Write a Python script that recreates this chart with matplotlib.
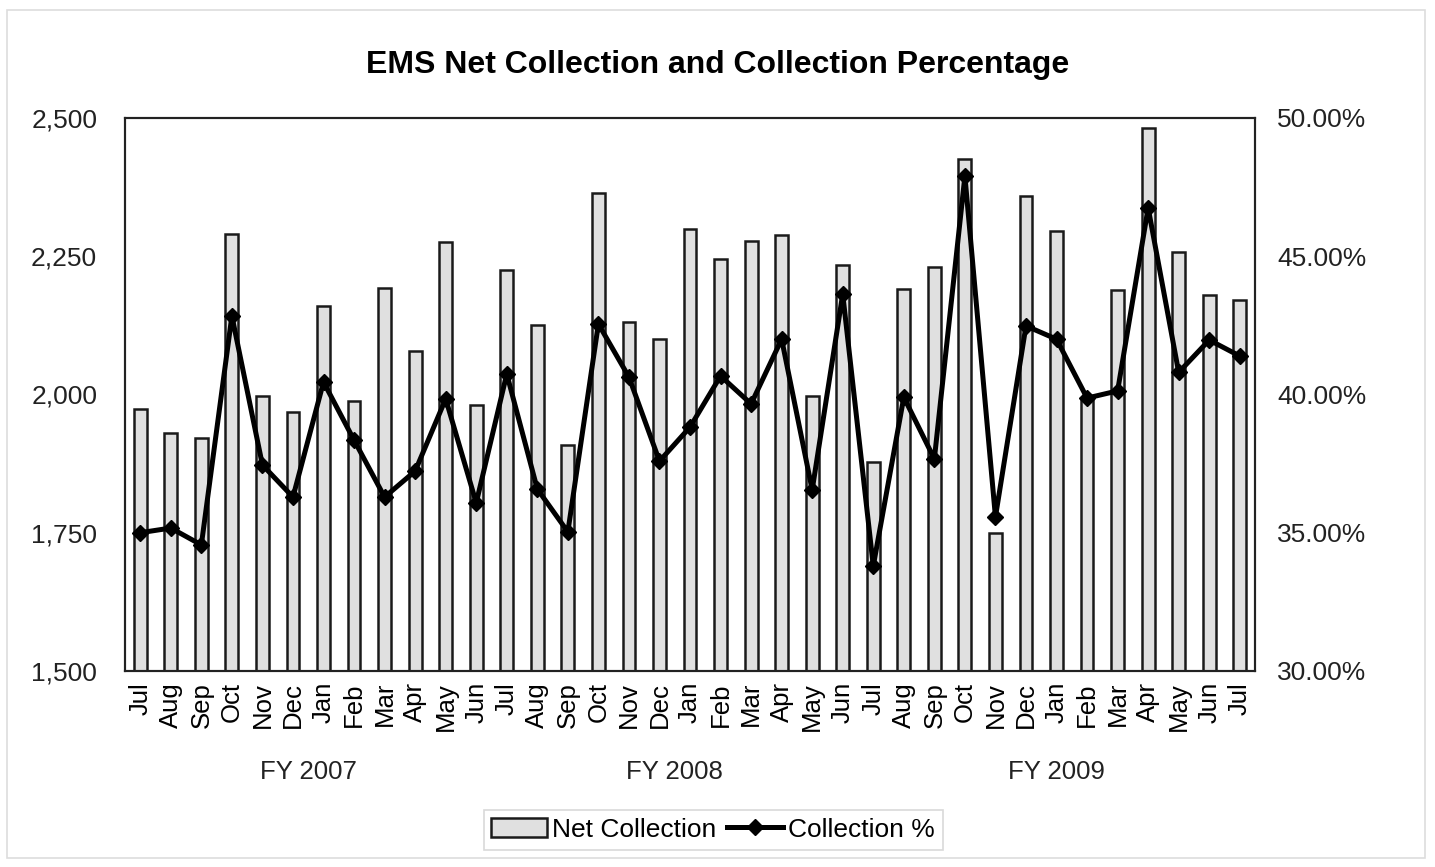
import numpy as np
import matplotlib
matplotlib.use("Agg")
import matplotlib.pyplot as plt
import matplotlib.ticker as ticker
from matplotlib.patches import Rectangle

plt.rcParams['font.family'] = ['Liberation Sans', 'DejaVu Sans']

months = ['Jul', 'Aug', 'Sep', 'Oct', 'Nov', 'Dec', 'Jan', 'Feb', 'Mar', 'Apr', 'May', 'Jun',
          'Jul', 'Aug', 'Sep', 'Oct', 'Nov', 'Dec', 'Jan', 'Feb', 'Mar', 'Apr', 'May', 'Jun',
          'Jul', 'Aug', 'Sep', 'Oct', 'Nov', 'Dec', 'Jan', 'Feb', 'Mar', 'Apr', 'May', 'Jun',
          'Jul']

net_collection = [1974, 1930, 1921, 2290, 1997, 1968, 2160, 1988, 2193, 2079, 2276, 1981,
                  2225, 2126, 1909, 2365, 2131, 2100, 2300, 2245, 2278, 2288, 1997, 2234,
                  1878, 2191, 2231, 2426, 1750, 2359, 2296, 1994, 2189, 2482, 2258, 2180,
                  2171]

collection_pct = [35.0, 35.17, 34.56, 42.84, 37.45, 36.29, 40.45, 38.35, 36.29, 37.23, 39.84, 36.08,
                  40.74, 36.58, 35.03, 42.55, 40.63, 37.59, 38.82, 40.67, 39.66, 42.0, 36.55, 43.63,
                  33.8, 39.9, 37.67, 47.9, 35.57, 42.48, 42.0, 39.87, 40.13, 46.75, 40.8, 41.97,
                  41.39]

fiscal_years = ['FY 2007', 'FY 2008', 'FY 2009']
fy_centers = [5.5, 17.5, 30.0]

x = np.arange(len(months))

fig = plt.figure(figsize=(14.35, 8.67), dpi=100)
ax = fig.add_axes([0.0871, 0.2261, 0.7875, 0.6378])
ax2 = ax.twinx()

# outer chart border
fig.patches.append(Rectangle((0.005, 0.01), 0.988, 0.978, transform=fig.transFigure,
                             fill=False, edgecolor='#dddddd', linewidth=1.2))

bars = ax.bar(x, net_collection, width=0.42, color='#e0e0e0', edgecolor='#1a1a1a',
              linewidth=1.8, label='Net Collection', zorder=2)
line, = ax2.plot(x, collection_pct, color='black', linewidth=3.6, marker='D',
                 markersize=8.5, label='Collection %', zorder=3)

ax.set_xlim(-0.5, len(months) - 0.5)
ax.set_ylim(1500, 2500)
ax2.set_ylim(30, 50)

ax.yaxis.set_major_locator(ticker.MultipleLocator(250))
ax.yaxis.set_major_formatter(ticker.FuncFormatter(lambda v, p: '{:,.0f}'.format(v)))
ax2.yaxis.set_major_locator(ticker.MultipleLocator(5))
ax2.yaxis.set_major_formatter(ticker.FuncFormatter(lambda v, p: '{:.2f}%'.format(v)))

ax.set_xticks(x)
ax.set_xticklabels(months, rotation=90, fontsize=18.5)
ax.tick_params(axis='x', length=0, pad=8)
ax.tick_params(axis='y', length=0, pad=20, labelsize=19, labelcolor='#222222')
ax2.tick_params(axis='y', length=0, pad=16, labelsize=19, labelcolor='#222222')

for a in (ax, ax2):
    for s in a.spines.values():
        s.set_linewidth(1.5)
        s.set_color('#222222')

for name, c in zip(fiscal_years, fy_centers):
    ax.text(c, -0.182, name, transform=ax.get_xaxis_transform(), ha='center', va='center',
            fontsize=18.5, color='#222222')

fig.text(0.5, 0.925, 'EMS Net Collection and Collection Percentage', ha='center', va='center',
         fontsize=23, fontweight='bold')

leg = fig.legend([bars, line], ['Net Collection', 'Collection %'], loc='center',
                 bbox_to_anchor=(0.497, 0.043), ncol=2, fontsize=19, frameon=True,
                 fancybox=False, edgecolor='#d0d0d0', handlelength=2.1, handletextpad=0.2,
                 columnspacing=0.42, borderpad=0.3, borderaxespad=0.2)
leg.get_frame().set_linewidth(1.2)

fig.savefig('out.png', dpi=100)
